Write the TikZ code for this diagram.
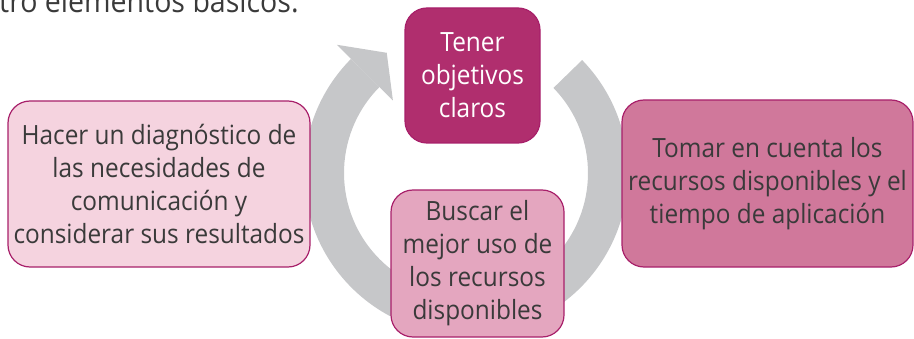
\documentclass[tikz,border=0pt]{standalone}
\usepackage{fontspec}
\setmainfont{Open Sans}[FakeStretch=0.92]
\usetikzlibrary{calc}
\definecolor{ringgray}{HTML}{C6C7C9}
\definecolor{boxedge}{HTML}{A8206A}
\definecolor{txtgray}{HTML}{3A3A3A}
\definecolor{cdark}{HTML}{B02E6E}
\definecolor{clight}{HTML}{F5D3DF}
\definecolor{cmid}{HTML}{D0789B}
\definecolor{cbuscar}{HTML}{E4A6BF}
\begin{document}
\begin{tikzpicture}[x=1pt,y=1pt,
  stepbox/.style={draw=boxedge, line width=1.2pt, rounded corners=22pt, inner sep=0pt,
    align=center, font=\fontsize{26.5}{33}\selectfont, text=txtgray},
]
\clip (0,0) rectangle (914,338);
\node[anchor=base west, inner sep=0pt, font=\fontsize{31}{36}\selectfont, text=txtgray] (title) at (-1,325) {tro elementos básicos.};
% circular arrow
\coordinate (c) at (466,165);
\fill[ringgray] ($(c)+(44.2:162)$) arc[start angle=44.2, end angle=-224.8, radius=162]
  -- ($(c)+(135.2:122)$) arc[start angle=135.2, end angle=404.2, radius=122] -- cycle;
\fill[ringgray] ($(c)+(135.2:182)$) -- ($(c)+(123.4:144)$) -- ($(c)+(135.2:103)$) -- cycle;
% boxes
\node[stepbox, fill=cdark, text=white, minimum width=135pt, minimum height=135pt] (tener) at (472.5,262.5) {Tener\\objetivos\\claros};
\node[stepbox, fill=clight, minimum width=302pt, minimum height=166pt] (diag) at (159,154) {Hacer un diagnóstico de\\las necesidades de\\comunicación y\\considerar sus resultados};
\node[stepbox, fill=cmid, minimum width=291pt, minimum height=167pt] (tomar) at (767.5,154.5) {Tomar en cuenta los\\recursos disponibles y el\\tiempo de aplicación};
\node[stepbox, fill=cbuscar, minimum width=173pt, minimum height=147pt] (buscar) at (477.5,74.5) {Buscar el\\mejor uso de\\los recursos\\disponibles};
\end{tikzpicture}
\end{document}
